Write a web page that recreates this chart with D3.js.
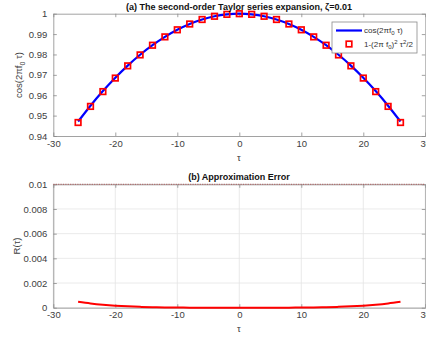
<!DOCTYPE html>
<html><head>
<meta charset="utf-8">
<title>Taylor series expansion</title>
<style>
body { margin: 0; background: #fff; }
svg { display: block; font-family: "Liberation Sans", Arial, sans-serif; }
.tick text { fill: #404040; font-size: 9.5px; }
</style>
<script src="https://cdnjs.cloudflare.com/ajax/libs/d3/7.8.5/d3.min.js"></script>
</head>
<body>
<svg id="chart" width="426" height="337"></svg>
<script>
// tau samples (markers at every 2)
const tau = [-26,-24,-22,-20,-18,-16,-14,-12,-10,-8,-6,-4,-2,0,2,4,6,8,10,12,14,16,18,20,22,24,26];

// cos(2*pi*f0*tau), right half, mirrored below
const cosHalf = [1, 0.999684, 0.998737, 0.997159, 0.994951, 0.992115, 0.988652, 0.984564,
  0.979855, 0.974527, 0.968583, 0.962028, 0.954865, 0.947098];
// 1-(2*pi*f0)^2*tau^2/2
const approxHalf = [1, 0.999684, 0.998737, 0.997158, 0.994947, 0.992104, 0.988630, 0.984525,
  0.979787, 0.974418, 0.968417, 0.961785, 0.954521, 0.946625];
// approximation error R(tau)
const errHalf = [0, 0.0000000166, 0.000000266, 0.000001347, 0.000004256, 0.00001039, 0.00002155,
  0.00003992, 0.0000681, 0.0001089, 0.0001659, 0.0002428, 0.0003437, 0.0004731];

const mirror = h => h.slice(1).reverse().concat(h);
const cosVals = mirror(cosHalf);
const approxVals = mirror(approxHalf);
const errVals = mirror(errHalf);

const xTicks = [-30, -20, -10, 0, 10, 20, 30];
const yTicksA = [0.94, 0.95, 0.96, 0.97, 0.98, 0.99, 1];
const yTicksB = [0, 0.002, 0.004, 0.006, 0.008, 0.01];

const svg = d3.select("#chart");
const axisCol = "#8a8a8a";

const x = d3.scaleLinear().domain([-30, 30]).range([53.3, 425.3]);
const yA = d3.scaleLinear().domain([0.94, 1]).range([136, 13.7]);
const yB = d3.scaleLinear().domain([0, 0.01]).range([307.7, 184.3]);

// plain hyphen minus like the original
const xFmt = d => String(d);

function drawFrame(y, yTicks, fmt, grid) {
  const top = y.range()[1], bottom = y.range()[0];
  const left = x.range()[0], right = x.range()[1];
  if (grid) {
    const g = svg.append("g");
    xTicks.forEach(t => g.append("line")
      .attr("x1", x(t)).attr("x2", x(t)).attr("y1", top).attr("y2", bottom)
      .attr("stroke", "#e4e4e4").attr("stroke-width", 0.8));
    yTicks.forEach(t => g.append("line")
      .attr("x1", left).attr("x2", right).attr("y1", y(t)).attr("y2", y(t))
      .attr("stroke", "#e4e4e4").attr("stroke-width", 0.8));
  }
  // bottom & left axes with inward ticks
  const xa = svg.append("g").attr("transform", `translate(0,${bottom})`)
    .call(d3.axisBottom(x).tickValues(xTicks).tickFormat(xFmt).tickSizeInner(-3.5).tickSizeOuter(0).tickPadding(5));
  const ya = svg.append("g").attr("transform", `translate(${left},0)`)
    .call(d3.axisLeft(y).tickValues(yTicks).tickFormat(fmt).tickSizeInner(-3.5).tickSizeOuter(0).tickPadding(6));
  // mirrored ticks on top / right
  const xt = svg.append("g").attr("transform", `translate(0,${top})`)
    .call(d3.axisTop(x).tickValues(xTicks).tickSizeInner(-3.5).tickSizeOuter(0).tickFormat(""));
  const yr = svg.append("g").attr("transform", `translate(${right},0)`)
    .call(d3.axisRight(y).tickValues(yTicks).tickSizeInner(-3.5).tickSizeOuter(0).tickFormat(""));
  [xa, ya, xt, yr].forEach(a => {
    a.selectAll("path, line").attr("stroke", axisCol).attr("stroke-width", 0.8);
  });
  xa.selectAll(".tick text").attr("dy", "0.6em");
}

// ---- (a) top plot ----
drawFrame(yA, yTicksA, d3.format(".2~f"), false);

svg.append("path")
  .datum(tau.map((t, i) => [t, cosVals[i]]))
  .attr("d", d3.line().x(d => x(d[0])).y(d => yA(d[1])).curve(d3.curveNatural))
  .attr("fill", "none").attr("stroke", "#0000ff").attr("stroke-width", 2.2);

svg.append("g").selectAll("rect")
  .data(tau.map((t, i) => [t, approxVals[i]]))
  .join("rect")
  .attr("x", d => x(d[0]) - 2.8).attr("y", d => yA(d[1]) - 2.8)
  .attr("width", 5.6).attr("height", 5.6)
  .attr("fill", "none").attr("stroke", "#ff0000").attr("stroke-width", 1.7);

svg.append("text").attr("x", 239).attr("y", 9.5).attr("text-anchor", "middle")
  .attr("font-size", 9).attr("font-weight", "bold").attr("fill", "#111")
  .text("(a) The second-order Taylor series expansion, ζ=0.01");

svg.append("text").attr("transform", "translate(22,75) rotate(-90)")
  .attr("text-anchor", "middle").attr("font-size", 9.5).attr("fill", "#404040")
  .html('cos(2πf<tspan font-size="7" dy="2.5">0</tspan><tspan dy="-2.5"> τ)</tspan>');

svg.append("text").attr("x", 239).attr("y", 161).attr("text-anchor", "middle")
  .attr("font-size", 9.5).attr("fill", "#404040").text("τ");

// legend
const lg = svg.append("g");
lg.append("rect").attr("x", 332).attr("y", 22).attr("width", 85).attr("height", 31)
  .attr("fill", "#fff").attr("stroke", "#8a8a8a").attr("stroke-width", 0.8);
lg.append("line").attr("x1", 336).attr("x2", 362).attr("y1", 30.5).attr("y2", 30.5)
  .attr("stroke", "#0000ff").attr("stroke-width", 2.2);
lg.append("text").attr("x", 364).attr("y", 33).attr("font-size", 8).attr("fill", "#333")
  .html('cos(2πf<tspan font-size="6" dy="2">0</tspan><tspan dy="-2"> τ)</tspan>');
lg.append("rect").attr("x", 346.2).attr("y", 41.2).attr("width", 5.6).attr("height", 5.6)
  .attr("fill", "none").attr("stroke", "#ff0000").attr("stroke-width", 1.7);
lg.append("text").attr("x", 364).attr("y", 47).attr("font-size", 8).attr("fill", "#333")
  .html('1-(2π f<tspan font-size="6" dy="2">0</tspan><tspan dy="-2">)</tspan><tspan font-size="6" dy="-3">2</tspan><tspan dy="3"> τ</tspan><tspan font-size="6" dy="-3">2</tspan><tspan dy="3">/2</tspan>');

// ---- (b) bottom plot ----
drawFrame(yB, yTicksB, d3.format(".3~f"), true);

// dotted red reference line along the top at 0.01
svg.append("line")
  .attr("x1", x(-30)).attr("x2", x(30)).attr("y1", yB(0.01)).attr("y2", yB(0.01))
  .attr("stroke", "#b05a5a").attr("stroke-width", 1).attr("stroke-dasharray", "1.2,1.2");

svg.append("path")
  .datum(tau.map((t, i) => [t, errVals[i]]))
  .attr("d", d3.line().x(d => x(d[0])).y(d => yB(d[1])).curve(d3.curveNatural))
  .attr("fill", "none").attr("stroke", "#ff0000").attr("stroke-width", 2);

svg.append("text").attr("x", 239).attr("y", 180).attr("text-anchor", "middle")
  .attr("font-size", 9).attr("font-weight", "bold").attr("fill", "#111")
  .text("(b) Approximation Error");

svg.append("text").attr("transform", "translate(20,246) rotate(-90)")
  .attr("text-anchor", "middle").attr("font-size", 9.5).attr("fill", "#404040")
  .text("R(τ)");

svg.append("text").attr("x", 239).attr("y", 332).attr("text-anchor", "middle")
  .attr("font-size", 9.5).attr("fill", "#404040").text("τ");
</script>
</body>
</html>
